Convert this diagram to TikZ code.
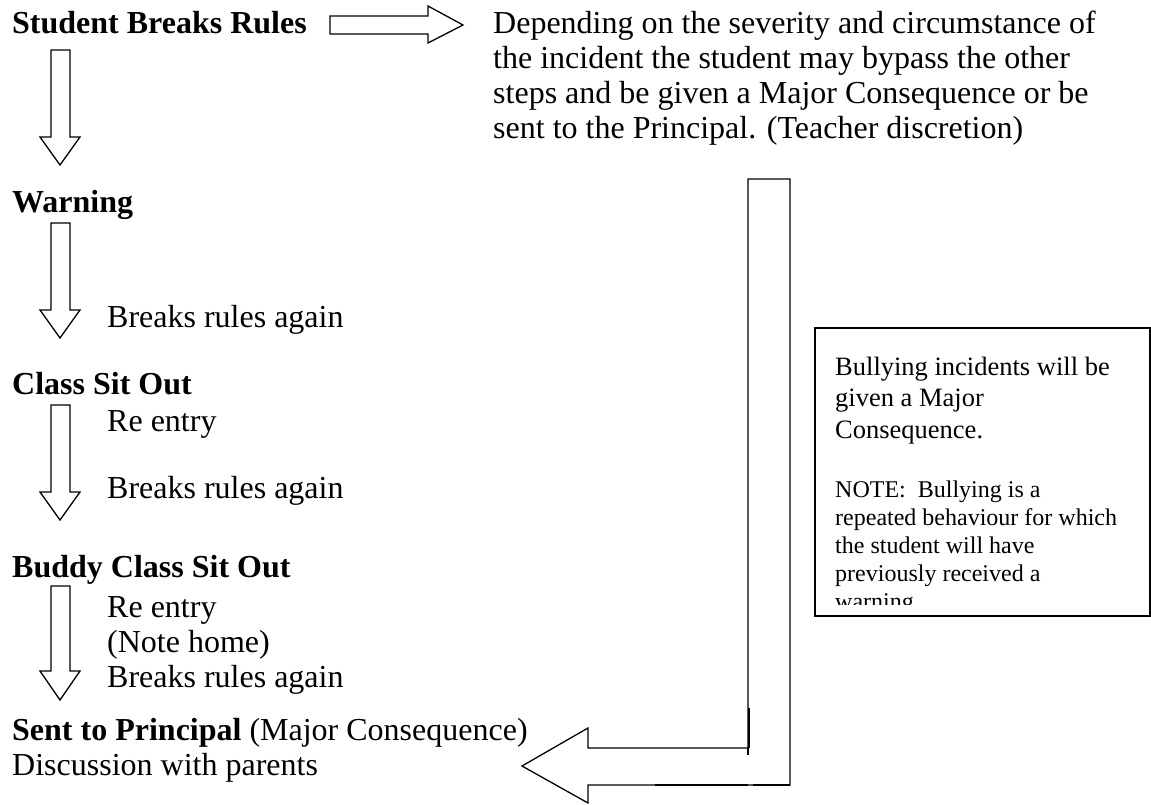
\documentclass[tikz,border=0pt]{standalone}
\usepackage{fontspec}
\setmainfont{Liberation Serif}
\newcommand{\mylines}[2]{\vtop{\baselineskip=#1pt\lineskiplimit=-100pt\halign{##\hfil\cr #2\crcr}}}
\tikzset{
  txt/.style={anchor=base west, inner sep=0pt, font=\fontsize{32}{35}\selectfont},
  boxtxtA/.style={anchor=base west, inner sep=0pt, font=\fontsize{26.5}{31.5}\selectfont},
  boxtxtB/.style={anchor=base west, inner sep=0pt, font=\fontsize{24}{28}\selectfont},
  blockarrow/.style={draw=black, line width=1.3pt, fill=white, line join=miter},
  overstroke/.style={draw=black, line width=2.4pt},
  notebox/.style={draw=black, line width=1.8pt, anchor=north west, minimum width=335pt, minimum height=288pt, inner sep=0pt}
}
\newcommand{\dnarrow}[3]{\draw[blockarrow] (51,#1) -- (70,#1) -- (70,#2) -- (80,#2) -- (60,#3) -- (40,#2) -- (51,#2) -- cycle;}
\begin{document}
\begin{tikzpicture}[x=1pt,y=-1pt]
\useasboundingbox (0,0) rectangle (1151,805);
\fill[white] (0,0) rectangle (1151,805);

% left column texts
\node[txt] (start) at (12,34) {\bfseries Student Breaks Rules};
\node[txt] (warn) at (12,212) {\bfseries Warning};
\node[txt] (br1) at (107,327) {Breaks rules again};
\node[txt] (cso) at (12,394) {\bfseries Class Sit Out};
\node[txt] (re1) at (107,431) {Re entry};
\node[txt] (br2) at (107,498) {Breaks rules again};
\node[txt] (bcso) at (12,577) {\bfseries Buddy Class Sit Out};
\node[txt] (re2) at (107,617) {\mylines{35}{Re entry\cr (Note home)\cr Breaks rules again}};
\node[txt] (prin) at (12,740) {\mylines{35}{\textbf{Sent to Principal} (Major Consequence)\cr Discussion with parents}};

% top-right paragraph
\node[txt] (para) at (493,34) {\mylines{35}{Depending on the severity and circumstance of\cr the incident the student may bypass the other\cr steps and be given a Major Consequence or be\cr sent to the Principal. (Teacher discretion)}};

% down arrows
\dnarrow{50}{137}{165}
\dnarrow{223}{310}{338}
\dnarrow{405}{492}{520}
\dnarrow{586}{671}{700}

% right arrow
\draw[blockarrow] (330,16) -- (428,16) -- (428,6) -- (463,25) -- (428,43) -- (428,34) -- (330,34) -- cycle;

% L-shaped arrow to principal
\draw[blockarrow] (748,179) -- (790,179) -- (790,785) -- (588,785) -- (588,803) -- (522,766) -- (588,728) -- (588,748) -- (748,748) -- cycle;
\draw[line width=1.3pt] (748,748) -- (748,755);
\draw[overstroke] (749,708) -- (749,748);
\draw[overstroke] (655,785) -- (748,785);
\draw[overstroke] (753,785) -- (790,785);

% note box
\node[notebox] (note) at (814,327) {};
\begin{scope}
\clip (815,328) rectangle (1148,604);
\node[boxtxtA] (notea) at (835,375) {\mylines{31.5}{Bullying incidents will be\cr given a Major\cr Consequence.}};
\node[boxtxtB] (noteb) at (835,497) {\mylines{28}{NOTE:\ \ Bullying is a\cr repeated behaviour for which\cr the student will have\cr previously received a\cr warning.}};
\end{scope}
\end{tikzpicture}
\end{document}
